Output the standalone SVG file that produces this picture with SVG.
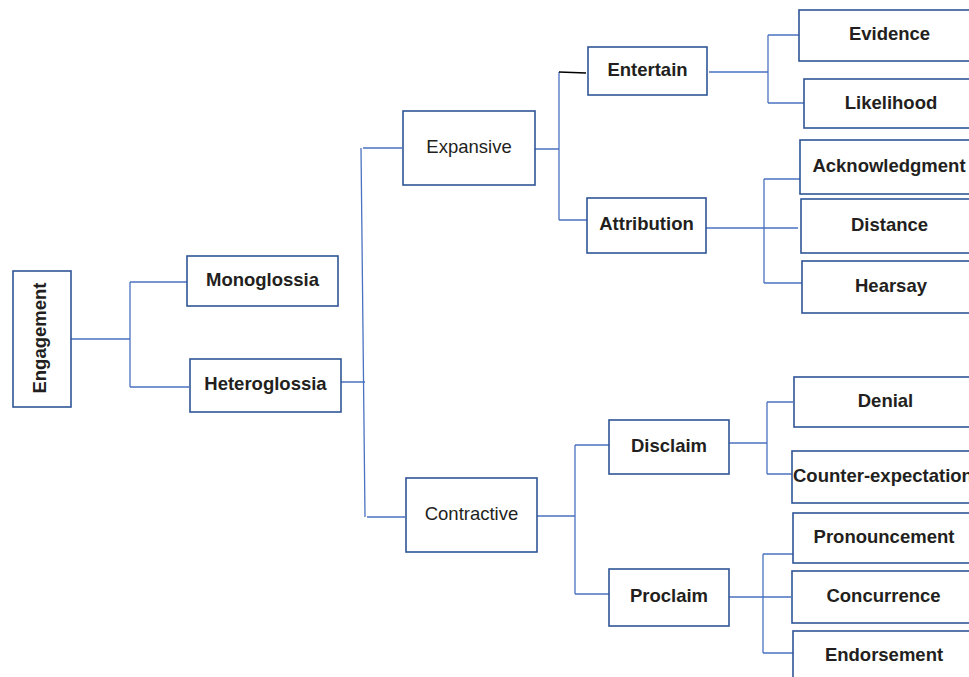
<svg xmlns="http://www.w3.org/2000/svg" width="969" height="677" viewBox="0 0 969 677">
<style>
.box{fill:#ffffff;stroke:#2f5597;stroke-width:1.6}
.c{fill:none;stroke:#4a72c0;stroke-width:1.3}
.t{font-family:"Liberation Sans",Arial,sans-serif;font-size:18.5px;font-weight:bold;fill:#231f20;text-anchor:middle}
.r{font-weight:normal}
</style>
<rect width="969" height="677" fill="#ffffff"/>
<g id="connectors">
<path class="c" d="M70,339 H130 M130,282 V387 M130,282 H188 M130,387 H189"/>
<path class="c" d="M341,382 H365 M361,148 L365,517 M363,148 H402 M367,517 H405"/>
<path class="c" d="M535,149 H559 M559,72 V220 M559,220 H587"/>
<path fill="none" stroke="#000000" stroke-width="1.3" d="M559,72 L586,73"/>
<path class="c" d="M537,516 H575 M575,445 V594 M575,445 H609 M575,594 H609"/>
<path class="c" d="M709,72 H768 M768,35 V103 M768,35 H799 M768,103 H804"/>
<path class="c" d="M706,228 H798 M764,179 V283 M764,179 H801 M764,283 H802"/>
<path class="c" d="M729,443 H767 M767,402 V474 M767,402 H793 M767,474 H792"/>
<path class="c" d="M727,597 H791 M763,554 V653 M763,554 H796 M763,653 H794"/>
</g>
<g id="engagement"><rect class="box" x="13" y="271" width="58" height="136"/><text class="t" transform="translate(46,338) rotate(-90)">Engagement</text></g>
<g id="monoglossia"><rect class="box" x="187" y="256" width="151" height="50"/><text class="t" x="262.5" y="286">Monoglossia</text></g>
<g id="heteroglossia"><rect class="box" x="190" y="359" width="151" height="53"/><text class="t" x="265.5" y="390">Heteroglossia</text></g>
<g id="expansive"><rect class="box" x="403" y="111" width="132" height="74"/><text class="t r" x="469" y="153">Expansive</text></g>
<g id="contractive"><rect class="box" x="406" y="478" width="131" height="74"/><text class="t r" x="471.5" y="520">Contractive</text></g>
<g id="entertain"><rect class="box" x="588" y="47" width="119" height="48"/><text class="t" x="647.5" y="76">Entertain</text></g>
<g id="attribution"><rect class="box" x="587" y="198" width="119" height="55"/><text class="t" x="646.5" y="230">Attribution</text></g>
<g id="disclaim"><rect class="box" x="609" y="420" width="120" height="54"/><text class="t" x="669" y="452">Disclaim</text></g>
<g id="proclaim"><rect class="box" x="609" y="569" width="120" height="57"/><text class="t" x="669" y="602">Proclaim</text></g>
<g id="evidence"><rect class="box" x="799" y="10" width="190" height="51"/><text class="t" x="889.5" y="40">Evidence</text></g>
<g id="likelihood"><rect class="box" x="804" y="79" width="190" height="49"/><text class="t" x="891" y="109">Likelihood</text></g>
<g id="acknowledgment"><rect class="box" x="800" y="140" width="190" height="54"/><text class="t" x="889" y="172">Acknowledgment</text></g>
<g id="distance"><rect class="box" x="801" y="199" width="190" height="54"/><text class="t" x="889.5" y="231">Distance</text></g>
<g id="hearsay"><rect class="box" x="802" y="261" width="190" height="52"/><text class="t" x="891" y="292">Hearsay</text></g>
<g id="denial"><rect class="box" x="794" y="377" width="190" height="50"/><text class="t" x="885.5" y="407">Denial</text></g>
<g id="counter-expectation"><rect class="box" x="792" y="451" width="190" height="52"/><text class="t" x="793" y="482" style="text-anchor:start">Counter-expectation</text></g>
<g id="pronouncement"><rect class="box" x="793" y="513" width="190" height="50"/><text class="t" x="884" y="543">Pronouncement</text></g>
<g id="concurrence"><rect class="box" x="792" y="571" width="190" height="52"/><text class="t" x="883.5" y="602">Concurrence</text></g>
<g id="endorsement"><rect class="box" x="793" y="631" width="190" height="60"/><text class="t" x="884" y="661">Endorsement</text></g>
</svg>
